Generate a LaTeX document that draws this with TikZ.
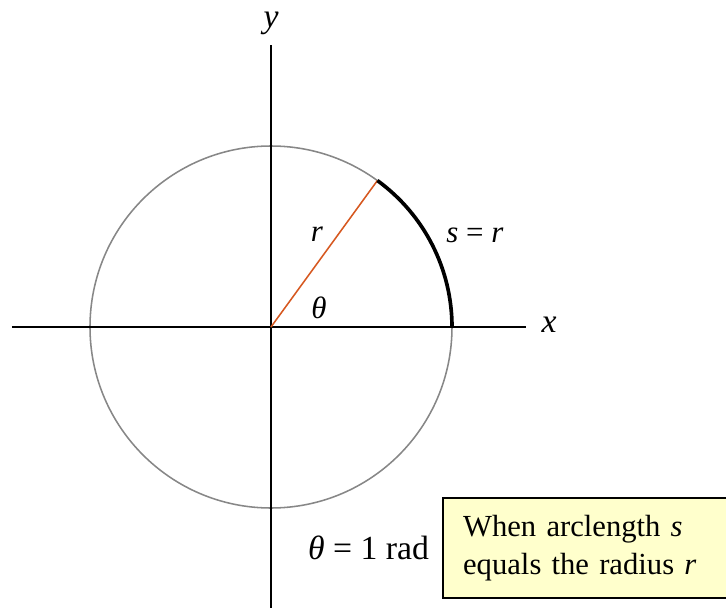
\documentclass[tikz,border=0pt]{standalone}
\usepackage{fontspec}
\setmainfont{Liberation Serif}
\usetikzlibrary{positioning}
\definecolor{RadC}{RGB}{214,88,32}
\definecolor{CircC}{RGB}{135,135,135}
\definecolor{NoteBg}{RGB}{255,255,204}
\tikzset{
  axisline/.style={line width=1.4pt,black},
  circ/.style={line width=1.1pt,CircC},
  radline/.style={line width=1.1pt,RadC},
  arclen/.style={line width=2.6pt,black},
  lbl/.style={font=\fontsize{22}{24}\selectfont,inner sep=1pt},
  axlbl/.style={font=\fontsize{24}{26}\selectfont\itshape,inner sep=1pt},
  note/.style={draw=black,line width=1.6pt,fill=NoteBg,align=left,
               text width=6.6cm,inner xsep=0.5cm,minimum height=2.5cm,
               font=\fontsize{21.8}{27.5}\selectfont},
}

\begin{document}
\begin{tikzpicture}
  \useasboundingbox (-6.775,-7.0) rectangle (11.375,8.175);
  \coordinate (O) at (0,0);
  \coordinate (xl) at (-6.475,0);
  \coordinate (xr) at (6.375,0);
  \coordinate (yt) at (0,7.05);
  \coordinate (yb) at (0,-7.2);
  \coordinate (A) at (4.525,0);
  \coordinate (P) at (54:4.525);

  \draw[circ] (O) circle[radius=4.525];
  \draw[axisline] (xl) -- (xr);
  \draw[axisline] (yt) -- (yb);
  \draw[radline] (O) -- (P);
  \draw[arclen] (A) arc[start angle=0,end angle=54,radius=4.525];

  \node[axlbl] (ylab) at (0,7.6) {y};
  \node[axlbl] (xlab) at (6.95,0.05) {x};
  \node[lbl] (rlab) at (1.15,2.33) {\textit{r}};
  \node[lbl] (thlab) at (1.2,0.48) {\textit{θ}};
  \node[lbl] (slab) at (5.1,2.28) {\textit{s} = \textit{r}};

  \node[note,anchor=north west] (note) at (4.275,-4.25)
    {When arclength \textit{s}\\equals the radius \textit{r}};
  \node[font=\fontsize{24}{26}\selectfont,left=0.2cm of note.west] (rad)
    {\textit{θ} = 1 rad};
\end{tikzpicture}
\end{document}
